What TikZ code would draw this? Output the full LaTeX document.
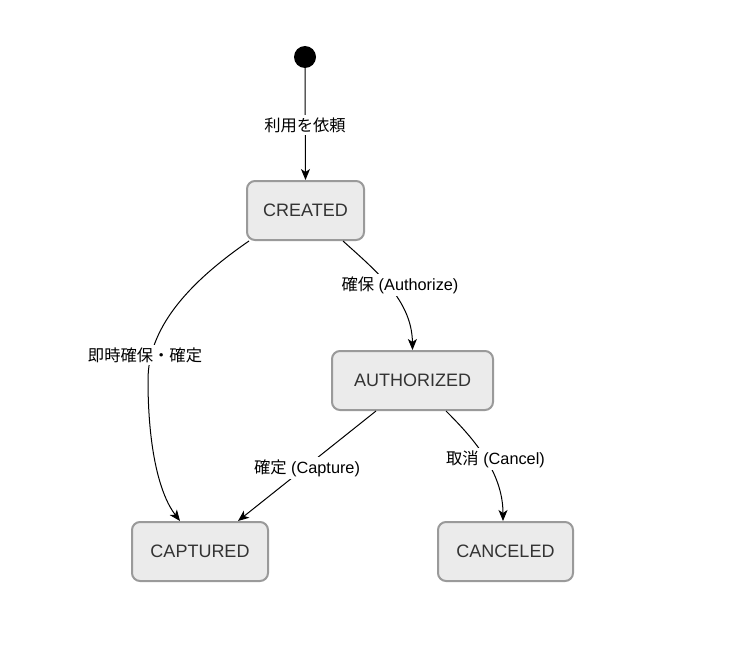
\documentclass[tikz,border=0pt]{standalone}
\usepackage{fontspec}
\setmainfont{Liberation Sans}
\newfontfamily\cjk{Noto Sans CJK JP}
\usetikzlibrary{arrows.meta}
\definecolor{nodefill}{HTML}{EBEBEB}
\definecolor{nodeline}{HTML}{9A9A9A}
\definecolor{nodetext}{HTML}{333333}
\begin{document}
\begin{tikzpicture}[x=1pt,y=-1pt,
  state/.style={draw=nodeline, line width=2pt, fill=nodefill, rounded corners=8pt,
    minimum height=59pt, text=nodetext, font=\fontsize{18}{21}\selectfont, inner sep=0pt},
  conn/.style={draw=black, line width=1pt, -{Stealth[length=11pt,width=9pt,inset=3pt]}},
  lbl/.style={fill=white, inner sep=2pt, font=\fontsize{16.3}{19}\selectfont, text=black}]
\useasboundingbox (0,0) rectangle (735,661);
\node[circle, fill=black, minimum size=22pt, inner sep=0pt] (start) at (305,57) {};
\node[state, minimum width=117pt] (created) at (305.5,210.5) {CREATED};
\node[state, minimum width=161pt] (auth) at (412.5,380.5) {AUTHORIZED};
\node[state, minimum width=136pt] (capt) at (200,551.5) {CAPTURED};
\node[state, minimum width=135pt] (canc) at (505.5,551.5) {CANCELED};

\draw[conn] (start) -- (created.north)
  node[lbl] (l1) at (305,125) {\cjk 利用を依頼};
\draw[conn] ([xshift=37.5pt]created.south) .. controls (375,270) and (412,300) .. (auth.north)
  node[lbl] (l2) at (400,285) {\cjk 確保\rm{} (Authorize)};
\draw[conn] ([xshift=-56.5pt]created.south) .. controls (185,285) and (148,330) .. (148,380)
  .. controls (148,450) and (160,495) .. ([xshift=-20pt]capt.north)
  node[lbl] (l3) at (145,355) {\cjk 即時確保・確定};
\draw[conn] ([xshift=-36.5pt]auth.south) -- ([xshift=38pt]capt.north)
  node[lbl] (l4) at (307,468) {\cjk 確定\rm{} (Capture)};
\draw[conn] ([xshift=33.5pt]auth.south) .. controls (470,435) and (503,470) .. ([xshift=-2.5pt]canc.north)
  node[lbl] (l5) at (495.5,459) {\cjk 取消\rm{} (Cancel)};
\end{tikzpicture}
\end{document}
